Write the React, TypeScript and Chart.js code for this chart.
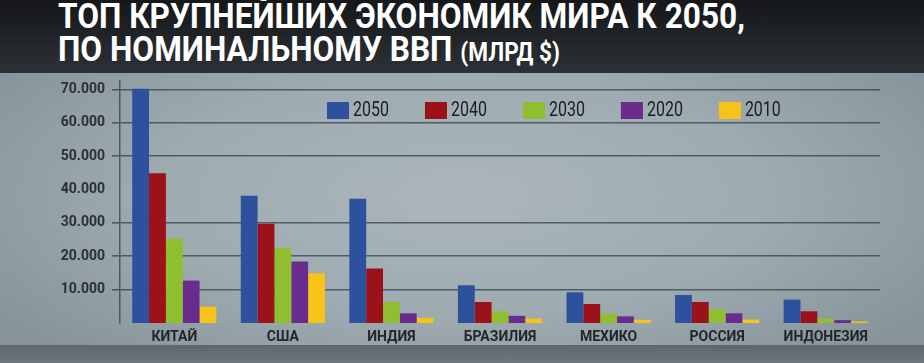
import React, { useEffect, useLayoutEffect, useRef } from "react";
import { Chart, registerables } from "chart.js";

Chart.register(...registerables);

const categories = ["КИТАЙ", "США", "ИНДИЯ", "БРАЗИЛИЯ", "МЕХИКО", "РОССИЯ", "ИНДОНЕЗИЯ"];
const seriesLabels = ["2050", "2040", "2030", "2020", "2010"];
const seriesColors = ["#2d519c", "#9c121b", "#8fbf2f", "#6a2c8c", "#f7c318"];
const gdp2050 = [70200, 38100, 37200, 11300, 9200, 8400, 7000];
const gdp2040 = [44900, 29700, 16300, 6300, 5700, 6300, 3500];
const gdp2030 = [25300, 22500, 6300, 3500, 2800, 4200, 1350];
const gdp2020 = [12700, 18400, 2900, 2150, 2000, 2900, 850];
const gdp2010 = [4900, 14900, 1550, 1350, 950, 1050, 450];
const yTicks = [10000, 20000, 30000, 40000, 50000, 60000, 70000];
const hiddenGrid = [40000];

const legendPlugin = {
  id: "insideLegend",
  afterDraw(chart: any) {
    const ctx = chart.ctx;
    const sx = 0.8;
    ctx.save();
    ctx.font = "20px Roboto";
    ctx.textBaseline = "middle";
    ctx.textAlign = "left";
    let x = 327;
    const y = 102;
    chart.data.datasets.forEach((ds: any) => {
      ctx.fillStyle = ds.backgroundColor;
      ctx.fillRect(x, y, 22, 17);
      ctx.fillStyle = "#1b1d1f";
      ctx.save();
      ctx.translate(x + 26, y + 9);
      ctx.scale(sx, 1);
      ctx.fillText(ds.label, 0, 0);
      ctx.restore();
      const w = ctx.measureText(ds.label).width * sx;
      x += 22 + 4 + w + 36;
    });
    ctx.restore();
  },
};

export default function App() {
  const ref = useRef<HTMLCanvasElement>(null);
  const titleRef = useRef<HTMLDivElement>(null);
  const line1Ref = useRef<HTMLSpanElement>(null);

  useLayoutEffect(() => {
    const t = titleRef.current;
    const l = line1Ref.current;
    if (t && l) {
      const w = l.getBoundingClientRect().width;
      if (w > 0) t.style.transform = `scaleX(${687 / w})`;
    }
  }, []);

  useEffect(() => {
    const values = [gdp2050, gdp2040, gdp2030, gdp2020, gdp2010];
    const chart = new Chart(ref.current!, {
      type: "bar",
      data: {
        labels: categories,
        datasets: seriesLabels.map((l, i) => ({
          label: l,
          data: values[i],
          backgroundColor: seriesColors[i],
          borderWidth: 0,
          barPercentage: 1,
          categoryPercentage: 0.775,
        })),
      },
      options: {
        responsive: false,
        animation: false,
        devicePixelRatio: 1,
        layout: { padding: { left: 0, right: 44, top: 81, bottom: 0 } },
        plugins: { legend: { display: false }, tooltip: { enabled: false } },
        scales: {
          x: {
            grid: { display: false, drawTicks: false },
            border: { display: false },
            ticks: {
              color: "#23272a",
              font: { family: "Roboto", weight: "bold", size: 14 },
              padding: 6,
            },
            afterFit(scale: any) {
              scale.height = 40;
            },
          },
          y: {
            min: 0,
            max: 72500,
            afterBuildTicks(scale: any) {
              scale.ticks = yTicks.map((v) => ({ value: v }));
            },
            grid: {
              color: (c: any) =>
                c.tick && hiddenGrid.includes(c.tick.value) ? "rgba(0,0,0,0)" : "rgba(55,66,72,0.75)",
              lineWidth: 1.6,
              tickLength: 8,
            },
            border: { display: true, color: "rgba(60,70,76,0.8)", width: 1.5 },
            ticks: {
              color: "#2b3034",
              font: { family: "Roboto", weight: "bold", size: 14 },
              padding: 7,
              callback: (v: any) => {
                const n = Number(v);
                return Math.floor(n / 1000) + "." + String(n % 1000).padStart(3, "0");
              },
            },
            afterFit(scale: any) {
              scale.width = 120;
            },
          },
        },
      },
      plugins: [legendPlugin],
    });
    return () => chart.destroy();
  }, []);

  return (
    <div
      style={{
        position: "fixed",
        left: 0,
        top: 0,
        width: 924,
        height: 363,
        overflow: "hidden",
        background: "#8d9aa1",
      }}
    >
      <div
        style={{
          position: "absolute",
          left: 0,
          top: 73,
          width: 924,
          height: 272,
          background:
            "radial-gradient(ellipse 60% 80% at 50% 45%, #aab6bc 0%, #9eabb1 55%, #87949b 100%)",
        }}
      />
      <div
        style={{
          position: "absolute",
          left: 0,
          top: 345,
          width: 924,
          height: 18,
          background: "linear-gradient(#5d676c, #6c767b)",
        }}
      />
      <div
        style={{
          position: "absolute",
          left: 0,
          top: 0,
          width: 924,
          height: 73,
          background: "linear-gradient(#15171a, #2d3135)",
        }}
      />
      <div
        ref={titleRef}
        style={{
          position: "absolute",
          left: 58,
          top: 0,
          color: "#ffffff",
          fontFamily: "Roboto, sans-serif",
          fontWeight: "bold",
          fontSize: 35,
          lineHeight: "33px",
          whiteSpace: "nowrap",
          transformOrigin: "0 0",
        }}
      >
        <div>
          <span ref={line1Ref}>ТОП КРУПНЕЙШИХ ЭКОНОМИК МИРА К 2050,</span>
        </div>
        <div>
          ПО НОМИНАЛЬНОМУ ВВП <span style={{ fontSize: 25 }}>(МЛРД $)</span>
        </div>
      </div>
      <canvas
        ref={ref}
        width={924}
        height={363}
        style={{ position: "absolute", left: 0, top: 0, width: 924, height: 363 }}
      />
    </div>
  );
}
